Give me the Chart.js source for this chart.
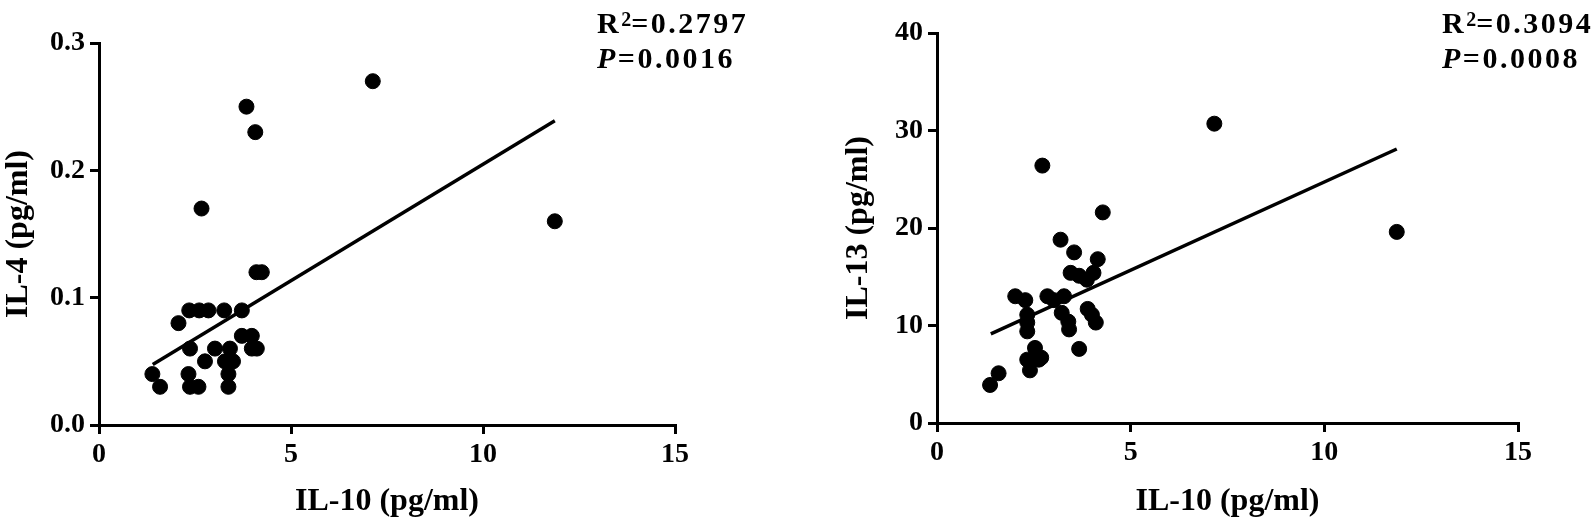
<!DOCTYPE html>
<html>
<head>
<meta charset="utf-8">
<script src="https://cdn.jsdelivr.net/npm/chart.js@4.4.0/dist/chart.umd.min.js"></script>
<style>
    html, body { margin: 0; padding: 0; background: #fff; }
    body { width: 1595px; height: 521px; position: relative; overflow: hidden; }
    .panel { position: absolute; top: 0; height: 521px; }
    .stat {
        position: absolute;
        font-family: 'Liberation Serif', 'Times New Roman', serif;
        font-weight: bold;
        font-size: 30px;
        line-height: 30px;
        letter-spacing: 2.5px;
        color: #000;
        white-space: nowrap;
    }
    .stat sup { font-size: 20px; position: relative; top: -7px; vertical-align: baseline; letter-spacing: 0; }
    .stat i { font-style: italic; }
</style>
</head>
<body>
<div class="panel" style="left:0;width:790px;"><canvas id="chartIL4"></canvas></div>
<div class="panel" style="left:838px;width:757px;"><canvas id="chartIL13"></canvas></div>

<div class="stat" style="left:597px;top:8px;">R<sup>2</sup>=0.2797</div>
<div class="stat" style="left:597px;top:43px;"><i>P</i>=0.0016</div>
<div class="stat" style="left:1442px;top:8px;">R<sup>2</sup>=0.3094</div>
<div class="stat" style="left:1442px;top:43px;"><i>P</i>=0.0008</div>

<script>
// IL-10 values (x) shared by both panels
const il10ParaIL4 = [1.39, 1.59, 2.07, 2.35, 2.61, 2.85, 3.26, 3.72, 2.37, 2.76, 3.02, 3.41, 3.72, 3.98, 4.11, 3.98,
    3.28, 3.49, 3.37, 3.37, 2.33, 2.37, 2.59, 2.67, 4.10, 4.24, 3.84, 4.07, 7.13, 11.87];
const il4 = [0.04, 0.03, 0.08, 0.09, 0.09, 0.09, 0.09, 0.09, 0.06, 0.05, 0.06, 0.06, 0.07, 0.07, 0.06, 0.06,
    0.05, 0.05, 0.04, 0.03, 0.04, 0.03, 0.03, 0.17, 0.12, 0.12, 0.25, 0.23, 0.27, 0.16];

const il10ParaIL13 = [1.37, 1.59, 2.02, 2.28, 2.33, 2.33, 2.33, 2.33, 2.40, 2.53, 2.63, 2.69, 2.72, 2.85, 3.02, 3.19,
    3.22, 3.28, 3.39, 3.41, 3.45, 3.54, 3.67, 3.67, 3.87, 3.89, 4.00, 4.10, 4.04, 4.15, 4.28, 7.16, 11.87];
const il13 = [3.9, 5.1, 13.0, 12.6, 11.1, 10.3, 9.4, 6.5, 5.4, 7.7, 6.5, 6.7, 26.4, 13.0, 12.6, 18.8,
    11.3, 13.0, 10.4, 9.6, 15.4, 17.5, 15.1, 7.6, 14.7, 11.7, 11.1, 10.3, 15.4, 16.8, 21.6, 30.7, 19.6];

// Regression lines (end points)
const rectaIL4X = [1.40, 11.87];
const rectaIL4Y = [0.0475, 0.239];
const rectaIL13X = [1.39, 11.87];
const rectaIL13Y = [9.14, 28.1];

const xTicks = [0, 5, 10, 15];
const ticksIL4 = [0, 0.1, 0.2, 0.3];
const ticksIL13 = [0, 10, 20, 30, 40];

const fuente = "'Liberation Serif', 'Times New Roman', serif";

function puntos(xs, ys) {
    return xs.map((x, i) => ({ x: x, y: ys[i] }));
}

function crearGrafico(id, cfg) {
    const ejeComun = {
        border: { color: '#000', width: 3 },
        grid: { drawOnChartArea: false, drawTicks: true, tickLength: 9, color: '#000', lineWidth: 3 },
        ticks: { color: '#000', font: { family: fuente, size: 28, weight: 'bold' } }
    };
    new Chart(document.getElementById(id).getContext('2d'), {
        data: {
            datasets: [
                {
                    type: 'scatter',
                    data: puntos(cfg.xs, cfg.ys),
                    backgroundColor: '#000',
                    borderColor: '#000',
                    pointRadius: 7.5,
                    pointHoverRadius: 7.5
                },
                {
                    type: 'line',
                    data: puntos(cfg.lineX, cfg.lineY),
                    borderColor: '#000',
                    borderWidth: 3.5,
                    pointRadius: 0,
                    fill: false
                }
            ]
        },
        options: {
            responsive: true,
            maintainAspectRatio: false,
            animation: false,
            layout: { padding: { left: 0, right: cfg.padRight, top: cfg.padTop, bottom: 0 } },
            plugins: { legend: { display: false }, tooltip: { enabled: false } },
            scales: {
                x: {
                    ...ejeComun,
                    type: 'linear',
                    min: 0,
                    max: 15,
                    afterBuildTicks: s => { s.ticks = xTicks.map(v => ({ value: v })); },
                    afterFit: s => { s.height = cfg.xHeight; },
                    ticks: { ...ejeComun.ticks, padding: 4, maxRotation: 0 },
                    title: {
                        display: true,
                        text: 'IL-10 (pg/ml)',
                        color: '#000',
                        font: { family: fuente, size: 32, weight: 'bold' },
                        padding: { top: 0, bottom: 0 }
                    }
                },
                y: {
                    ...ejeComun,
                    type: 'linear',
                    min: cfg.yTicks[0],
                    max: cfg.yTicks[cfg.yTicks.length - 1],
                    afterBuildTicks: s => { s.ticks = cfg.yTicks.map(v => ({ value: v })); },
                    afterFit: s => { s.width = 99; },
                    ticks: { ...ejeComun.ticks, padding: 5, callback: cfg.formato },
                    title: {
                        display: true,
                        text: cfg.yTitulo,
                        color: '#000',
                        font: { family: fuente, size: 32, weight: 'bold' },
                        padding: { top: cfg.yTitlePad, bottom: 0 }
                    }
                }
            }
        }
    });
}

document.addEventListener('DOMContentLoaded', function() {
    crearGrafico('chartIL4', {
        xs: il10ParaIL4, ys: il4, lineX: rectaIL4X, lineY: rectaIL4Y,
        yTicks: ticksIL4, yTitulo: 'IL-4 (pg/ml)', formato: v => v.toFixed(1),
        padRight: 115, padTop: 43, xHeight: 96, yTitlePad: 0
    });
    crearGrafico('chartIL13', {
        xs: il10ParaIL13, ys: il13, lineX: rectaIL13X, lineY: rectaIL13Y,
        yTicks: ticksIL13, yTitulo: 'IL-13 (pg/ml)', formato: v => String(v),
        padRight: 77, padTop: 33, xHeight: 98, yTitlePad: 2
    });
});
</script>
</body>
</html>
